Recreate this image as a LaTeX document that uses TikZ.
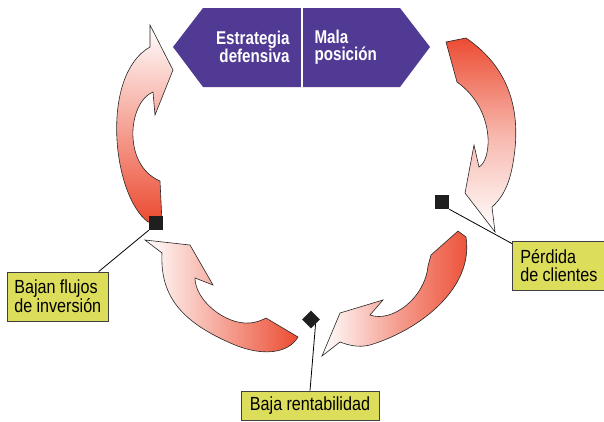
\documentclass[tikz,border=0pt]{standalone}
\usepackage{fontspec}
\setmainfont[FakeStretch=0.85, WordSpace=0.95]{Liberation Sans}
\newfontfamily\hexfont[FakeStretch=0.82]{Liberation Sans}
\definecolor{hexpurple}{RGB}{80,58,148}
\definecolor{arrowred}{RGB}{236,76,50}
\definecolor{boxyellow}{RGB}{221,221,92}

\begin{document}
\begin{tikzpicture}[
        x=1pt, y=-1pt,
        arrowbody/.style={draw=black!85, line width=0.6pt},
        marker/.style={fill=black!88, minimum size=14pt, inner sep=0pt},
        tag/.style={fill=boxyellow, draw=black!75, line width=0.8pt, align=left,
            inner xsep=7pt, inner ysep=3pt, font=\fontsize{19}{17.5}\selectfont},
        hextext/.style={text=white, font=\hexfont\bfseries\fontsize{18.5}{17.5}\selectfont}
    ]
 \useasboundingbox (0,0) rectangle (604,421);
 \fill[hexpurple] (173,47) -- (203,8) -- (400,8) -- (430,47) -- (400,87) -- (203,87) -- cycle;
 \draw[white, line width=1.2pt] (302,8) -- (302,87);
 \node[hextext, align=right, anchor=east] (estrategia) at (293,47) {Estrategia\\defensiva};
 \node[hextext, align=left, anchor=west] (mala) at (311,47) {Mala\\posición};

 \shade[arrowbody, top color=white, bottom color=arrowred]
     (150,47) -- (150,25) -- (173,70) -- (155,115) -- (153,92)
     .. controls (128,102) and (122,165) .. (160,181) -- (162,222) -- (148,222)
     .. controls (112,195) and (100,75) .. cycle;
 \shade[arrowbody, top color=arrowred, bottom color=white, middle color=arrowred!40]
     (446,42) -- (466,38) .. controls (510,68) and (522,112) .. (513,163)
     .. controls (509,188) and (500,200) .. (492,207) -- (495,232) -- (465,193)
     -- (474,145) -- (479,167) .. controls (492,160) and (496,110) .. (457,82) -- cycle;
 \shade[arrowbody, left color=white, right color=arrowred, middle color=arrowred!55]
     (458,231) -- (466,237) .. controls (474,288) and (420,330) .. (370,345)
     .. controls (358,348) and (348,345) .. (340,342) -- (322,356) -- (340,313)
     -- (383,300) -- (370,315) .. controls (392,323) and (425,298) .. (428,266)
     -- (431,255) -- cycle;
 \shade[arrowbody, left color=white, right color=arrowred]
     (266,318) -- (298,337) .. controls (288,354) and (262,356) .. (235,345)
     .. controls (180,322) and (160,295) .. (162,253) -- (145,240) -- (190,245)
     -- (213,285) -- (195,278) .. controls (195,300) and (225,325) .. (250,323)
     .. controls (258,322) and (262,320) .. cycle;

 \node[tag, anchor=west, minimum height=49pt] (flujos) at (7,296.5) {Bajan flujos\\de inversión};
 \node[tag, anchor=west, inner xsep=8pt, minimum height=49pt] (clientes) at (512,265.5) {Pérdida\\de clientes};
 \node[tag, minimum width=138pt, minimum height=29pt] (rentab) at (310,405.5) {Baja rentabilidad};

 \node[marker] (sqL) at (156,223) {};
 \node[marker] (sqR) at (442,202) {};
 \node[marker, minimum size=12.5pt, rotate=45] (dm) at (311,319.5) {};

 \draw[line width=0.8pt] ([xshift=-10pt]flujos.north east) -- (sqL.south west);
 \draw[line width=0.8pt] (sqR.south east) -- ([yshift=-3pt]clientes.north west);
 \draw[line width=0.8pt] (dm.south) -- (rentab.north);
\end{tikzpicture}
\end{document}
